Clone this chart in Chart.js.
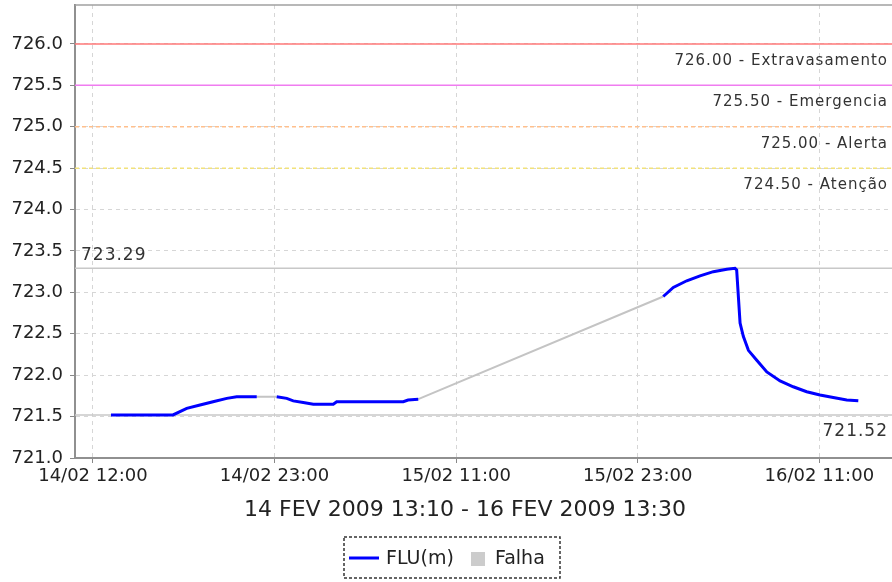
<!DOCTYPE html>
<html>
<head>
<meta charset="utf-8">
<script src="https://cdn.jsdelivr.net/npm/chart.js@4"></script>
<style>
  body { margin: 0; background: #fff; }
  canvas { display: block; }
</style>
</head>
<body>
<canvas id="myChart1" width="892" height="582"></canvas>
<script>
// hours counted from 14/02/2009 00:00
var fluHours = [13.17, 17.18, 18.07, 18.93, 19.77, 20.66, 21.30, 22.60, null,
  23.89, 24.54, 24.96, 25.61, 26.26, 27.55, 27.77, 32.08, 32.39, 33.05, null,
  48.90, 49.55, 50.42, 51.28, 52.14, 53.01, 53.54, 53.65, 53.87, 54.08, 54.41,
  54.95, 55.60, 56.46, 57.31, 58.18, 59.04, 59.90, 60.77, 61.52];
var fluLevel = [721.52, 721.52, 721.60, 721.64, 721.68, 721.72, 721.74, 721.74, null,
  721.74, 721.72, 721.69, 721.67, 721.65, 721.65, 721.68, 721.68, 721.70, 721.71, null,
  722.95, 723.06, 723.14, 723.20, 723.25, 723.28, 723.29, 723.27, 722.63, 722.47, 722.30,
  722.18, 722.04, 721.93, 721.86, 721.80, 721.76, 721.73, 721.70, 721.69];

// gaps in the record ("Falha")
var falhaHours = [22.60, 23.89, null, 33.05, 48.90];
var falhaLevel = [721.74, 721.74, null, 721.71, 722.95];

var limitValues = [726.0, 725.5, 725.0, 724.5];
var limitNames = ["Extravasamento", "Emergencia", "Alerta", "Atenção"];
var limitColors = ["#ff7878", "#f07cf0", "#ffbf8c", "#f2e27a"];
var limitDashed = [false, false, true, true];

var xTickHours = [12, 23.75, 35.5, 47.25, 59];
var xTickLabels = ["14/02 12:00", "14/02 23:00", "15/02 11:00", "15/02 23:00", "16/02 11:00"];
var periodTitle = "14 FEV 2009 13:10 - 16 FEV 2009 13:30";

var xMin = 10.84, xMax = 63.70;
var yMin = 721.0, yMax = 726.47;

var maxLevel = Math.max.apply(null, fluLevel.filter(function (v) { return v !== null; }));
var minLevel = Math.min.apply(null, fluLevel.filter(function (v) { return v !== null; }));

function toPoints(xs, ys) {
  return xs.map(function (x, i) { return { x: x, y: ys[i] }; });
}

var datasets = [
  {
    label: "FLU(m)",
    data: toPoints(fluHours, fluLevel),
    borderColor: "#0000ff",
    borderWidth: 3,
    pointRadius: 0,
    spanGaps: false,
  },
  {
    label: "Falha",
    data: toPoints(falhaHours, falhaLevel),
    borderColor: "#c4c4c4",
    borderWidth: 2,
    pointRadius: 0,
    spanGaps: false,
  },
  {
    label: "max",
    data: [{ x: xMin, y: maxLevel }, { x: xMax, y: maxLevel }],
    borderColor: "#c8c8c8",
    borderWidth: 1.5,
    pointRadius: 0,
  },
  {
    label: "min",
    data: [{ x: xMin, y: minLevel }, { x: xMax, y: minLevel }],
    borderColor: "#c8c8c8",
    borderWidth: 1.5,
    pointRadius: 0,
  },
];
limitValues.forEach(function (v, i) {
  datasets.push({
    label: limitNames[i],
    data: [{ x: xMin, y: v }, { x: xMax, y: v }],
    borderColor: limitColors[i],
    borderWidth: 1.5,
    borderDash: limitDashed[i] ? [4, 3] : [],
    pointRadius: 0,
  });
});

// labels on the reference lines, title under the axis and the boxed legend
var extrasPlugin = {
  id: "extras",
  afterDraw: function (chart) {
    var ctx = chart.ctx;
    var ys = chart.scales.y;
    var area = chart.chartArea;
    ctx.save();

    // top outline of the plot
    ctx.strokeStyle = "#a0a0a0";
    ctx.lineWidth = 1.5;
    ctx.beginPath();
    ctx.moveTo(area.left, area.top);
    ctx.lineTo(area.right, area.top);
    ctx.stroke();

    ctx.fillStyle = "#333";
    ctx.font = "15px 'DejaVu Sans'";
    ctx.letterSpacing = "1px";
    ctx.textAlign = "right";
    ctx.textBaseline = "alphabetic";
    limitValues.forEach(function (v, i) {
      ctx.fillText(v.toFixed(2) + " - " + limitNames[i], area.right - 4, ys.getPixelForValue(v) + 21);
    });

    ctx.font = "17px 'DejaVu Sans'";
    ctx.textAlign = "left";
    ctx.fillText(maxLevel.toFixed(2), area.left + 6, ys.getPixelForValue(maxLevel) - 8);
    ctx.textAlign = "right";
    ctx.fillText(minLevel.toFixed(2), area.right - 4, ys.getPixelForValue(minLevel) + 21);
    ctx.letterSpacing = "0px";

    ctx.fillStyle = "#222";
    ctx.font = "22px 'DejaVu Sans'";
    ctx.textAlign = "center";
    ctx.fillText(periodTitle, 465, 516);

    // legend
    ctx.setLineDash([3, 2]);
    ctx.strokeStyle = "#333";
    ctx.lineWidth = 1.5;
    ctx.strokeRect(344, 537, 216, 41);
    ctx.setLineDash([]);
    ctx.strokeStyle = "#0000ff";
    ctx.lineWidth = 3;
    ctx.beginPath();
    ctx.moveTo(349, 558);
    ctx.lineTo(379, 558);
    ctx.stroke();
    ctx.fillStyle = "#cccccc";
    ctx.fillRect(471, 552, 14, 14);
    ctx.fillStyle = "#222";
    ctx.font = "19px 'DejaVu Sans'";
    ctx.textAlign = "left";
    ctx.textBaseline = "middle";
    ctx.fillText("FLU(m)", 386, 559);
    ctx.fillText("Falha", 495, 559);
    ctx.restore();
  },
};

new Chart(document.getElementById("myChart1"), {
  type: "line",
  data: { datasets: datasets },
  options: {
    responsive: false,
    animation: false,
    layout: { padding: { top: 5, right: 0, left: 0, bottom: 0 } },
    plugins: {
      legend: { display: false },
      tooltip: { enabled: false },
    },
    scales: {
      x: {
        type: "linear",
        min: xMin,
        max: xMax,
        afterBuildTicks: function (scale) {
          scale.ticks = xTickHours.map(function (v) { return { value: v }; });
        },
        afterFit: function (scale) {
          scale.height = 124;
          scale.paddingLeft = 0;
          scale.paddingRight = 0;
        },
        ticks: {
          autoSkip: false,
          maxRotation: 0,
          minRotation: 0,
          padding: 3,
          color: "#222",
          font: { family: "DejaVu Sans", size: 18 },
          callback: function (value, index) { return xTickLabels[index]; },
        },
        grid: { color: "#d6d6d6", tickColor: "#888", tickLength: 5 },
        border: { color: "#909090", width: 2, dash: [4, 4] },
      },
      y: {
        type: "linear",
        min: yMin,
        max: yMax,
        afterFit: function (scale) {
          scale.width = 75;
          scale.paddingTop = 0;
          scale.paddingBottom = 0;
        },
        ticks: {
          stepSize: 0.5,
          includeBounds: false,
          padding: 7,
          color: "#222",
          font: { family: "DejaVu Sans", size: 18 },
          callback: function (value) { return value.toFixed(1); },
        },
        grid: { color: "#d6d6d6", tickColor: "#888", tickLength: 5 },
        border: { color: "#909090", width: 2, dash: [4, 4] },
      },
    },
  },
  plugins: [extrasPlugin],
});
</script>
</body>
</html>
